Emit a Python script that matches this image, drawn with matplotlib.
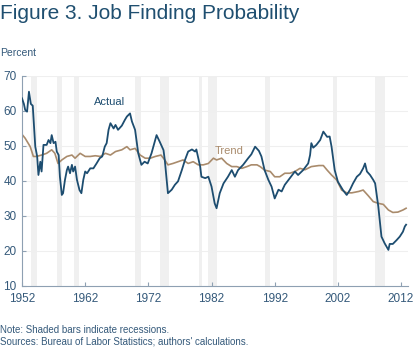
import matplotlib
matplotlib.use('Agg')
import matplotlib.pyplot as plt

plt.rcParams['font.family'] = ['Liberation Sans', 'DejaVu Sans']

# job finding probability, percent
actual_years = [1952.0, 1952.3, 1952.5, 1952.8, 1953.1, 1953.4, 1953.7, 1954.1, 1954.4, 1954.6,
                1954.9, 1955.1, 1955.4, 1955.9, 1956.2, 1956.5, 1956.7, 1957.0, 1957.3, 1957.5,
                1957.8, 1958.0, 1958.3, 1958.5, 1958.8, 1959.1, 1959.3, 1959.6, 1959.9, 1960.1,
                1960.4, 1960.7, 1961.1, 1961.4, 1961.7, 1962.0, 1962.3, 1962.8, 1963.3, 1963.8,
                1964.3, 1964.7, 1965.1, 1965.4, 1965.7, 1966.0, 1966.5, 1966.8, 1967.2, 1967.8,
                1968.3, 1968.6, 1969.1, 1969.4, 1969.9, 1970.4, 1970.9, 1971.4, 1971.9, 1972.5,
                1973.3, 1973.8, 1974.4, 1974.6, 1975.1, 1975.7, 1976.2, 1976.7, 1977.3, 1977.8,
                1978.3, 1978.9, 1979.4, 1979.6, 1980.2, 1980.4, 1981.0, 1981.5, 1982.0, 1982.5,
                1982.8, 1983.3, 1983.9, 1984.6, 1985.2, 1985.7, 1986.2, 1987.0, 1987.8, 1988.3,
                1988.9, 1989.5, 1989.9, 1990.4, 1991.0, 1991.5, 1992.0, 1992.6, 1993.1, 1993.6,
                1994.4, 1995.2, 1995.7, 1996.5, 1997.3, 1997.6, 1997.8, 1998.1, 1998.6, 1999.2,
                1999.7, 2000.3, 2000.7, 2001.0, 2001.5, 2002.0, 2002.8, 2003.4, 2003.9, 2004.4,
                2005.0, 2005.5, 2006.0, 2006.3, 2006.6, 2007.1, 2007.6, 2007.9, 2008.4, 2008.9,
                2009.4, 2010.0, 2010.2, 2010.7, 2011.3, 2011.8, 2012.3, 2012.6, 2012.8]
actual = [63.6, 62.0, 60.3, 59.8, 65.5, 62.0, 61.5, 49.8, 47.0, 41.7,
          45.5, 42.7, 50.3, 50.3, 51.7, 50.8, 53.1, 50.8, 51.2, 48.4,
          47.4, 41.2, 36.0, 36.5, 40.3, 43.1, 44.1, 42.2, 44.6, 42.7,
          44.1, 40.3, 37.4, 36.5, 40.3, 42.7, 42.2, 43.6, 43.6, 45.0,
          46.5, 47.0, 49.8, 50.8, 54.6, 56.5, 55.0, 56.0, 54.6, 55.8,
          57.5, 58.4, 59.3, 57.0, 54.6, 47.9, 44.6, 45.5, 45.0, 47.9,
          53.1, 51.2, 48.8, 46.0, 36.5, 37.5, 38.9, 39.9, 43.1, 46.0,
          48.4, 49.0, 48.4, 49.0, 44.1, 41.2, 40.8, 41.2, 38.4, 33.6,
          32.2, 36.5, 39.3, 41.2, 43.1, 41.2, 43.1, 44.6, 46.5, 47.6,
          49.8, 48.6, 47.0, 43.1, 40.3, 38.4, 35.0, 37.5, 37.0, 38.9,
          40.8, 42.7, 41.7, 43.1, 45.0, 47.4, 50.8, 49.5, 50.3, 51.7,
          54.1, 52.6, 52.7, 49.8, 43.1, 39.8, 37.4, 36.0, 37.4, 39.3,
          41.2, 42.0, 43.6, 45.0, 42.7, 41.7, 40.3, 39.3, 32.7, 24.1,
          22.2, 20.3, 22.0, 22.0, 23.1, 24.1, 25.5, 27.0, 27.5]

trend_years = [1952.0, 1952.5, 1953.3, 1953.8, 1954.3, 1955.1, 1955.9, 1956.7, 1957.2, 1957.7,
               1958.3, 1959.1, 1959.9, 1960.4, 1961.2, 1962.0, 1962.8, 1963.6, 1964.4, 1965.2,
               1966.0, 1966.8, 1967.8, 1968.6, 1969.1, 1969.9, 1970.7, 1971.5, 1972.3, 1973.1,
               1974.0, 1974.6, 1975.1, 1975.9, 1976.7, 1977.5, 1978.3, 1979.1, 1979.9, 1980.7,
               1981.5, 1982.3, 1982.8, 1983.6, 1984.4, 1985.2, 1986.0, 1986.8, 1987.6, 1988.3,
               1989.2, 1989.7, 1990.4, 1991.3, 1992.0, 1992.8, 1993.6, 1994.4, 1995.2, 1996.0,
               1996.8, 1997.8, 1999.0, 1999.7, 2000.3, 2001.0, 2001.8, 2002.6, 2003.4, 2004.2,
               2005.3, 2006.0, 2006.8, 2007.6, 2008.4, 2009.2, 2010.0, 2010.7, 2011.5, 2012.3,
               2012.8]
trend = [53.3, 52.2, 49.8, 47.0, 47.0, 47.4, 47.9, 48.9, 47.9, 45.0,
         46.0, 47.0, 47.4, 46.5, 47.9, 47.0, 47.0, 47.2, 47.0, 47.9,
         47.4, 48.4, 48.9, 49.8, 48.9, 49.3, 47.4, 46.5, 46.5, 47.0,
         47.4, 46.0, 44.6, 45.0, 45.5, 46.0, 45.0, 45.5, 44.6, 44.6,
         45.0, 46.5, 46.0, 46.5, 45.0, 44.1, 44.1, 43.6, 44.1, 44.6,
         44.6, 44.1, 43.1, 42.7, 41.2, 41.2, 42.2, 42.2, 42.7, 43.6,
         43.2, 44.1, 44.4, 44.4, 43.1, 41.7, 40.3, 37.4, 36.6, 36.6,
         37.0, 37.4, 35.8, 34.1, 33.6, 33.3, 31.7, 31.0, 31.1, 31.7,
         32.2]

# NBER recessions (start, end)
recessions = [(1953.5, 1954.4), (1957.6, 1958.3), (1960.3, 1961.1), (1969.9, 1970.9),
              (1973.9, 1975.2), (1980.0, 1980.5), (1981.5, 1982.9), (1990.5, 1991.2),
              (2001.2, 2001.9), (2007.9, 2009.5)]

xticks = [1952, 1962, 1972, 1982, 1992, 2002, 2012]
yticks = [10, 20, 30, 40, 50, 60, 70]

navy = '#1d4d70'
tan = '#a98b6c'
textblue = '#34597a'

fig = plt.figure(figsize=(4.2, 3.5), dpi=100)
ax = fig.add_axes([0.0524, 0.183, 0.919, 0.6])

for s, e in recessions:
    ax.axvspan(s, e, color='#f0f0f0', lw=0, zorder=0)
for y in yticks[1:]:
    ax.axhline(y, color='#efefef', lw=0.8, zorder=0.5)

ax.plot(trend_years, trend, color=tan, lw=1.2, zorder=2)
ax.plot(actual_years, actual, color=navy, lw=1.3, zorder=3)

ax.set_xlim(1952, 2013.1)
ax.set_ylim(10, 70)
ax.set_xticks(xticks)
ax.set_yticks(yticks)
ax.tick_params(direction='in', length=3, color='#8ea0b2', labelcolor=textblue, labelsize=8.5)
ax.tick_params(axis='x', pad=5)
ax.tick_params(axis='y', pad=4)
for side in ['top', 'right']:
    ax.spines[side].set_visible(False)
for side in ['left', 'bottom']:
    ax.spines[side].set_color('#8ea0b2')
    ax.spines[side].set_linewidth(0.8)

ax.text(1963.4, 62.7, 'Actual', color=navy, fontsize=8, va='center')
ax.text(1982.5, 48.7, 'Trend', color=tan, fontsize=8, va='center')

fig.text(0.0, 0.962, 'Figure 3. Job Finding Probability', color='#1f4f70', fontsize=15, va='center')
fig.text(0.0, 0.848, 'Percent', color=textblue, fontsize=7.5, va='center')
fig.text(0.0, 0.057, 'Note: Shaded bars indicate recessions.', color=textblue, fontsize=7, va='center')
fig.text(0.0, 0.023, "Sources: Bureau of Labor Statistics; authors' calculations.", color=textblue, fontsize=7, va='center')

fig.savefig('out.png', dpi=100)
